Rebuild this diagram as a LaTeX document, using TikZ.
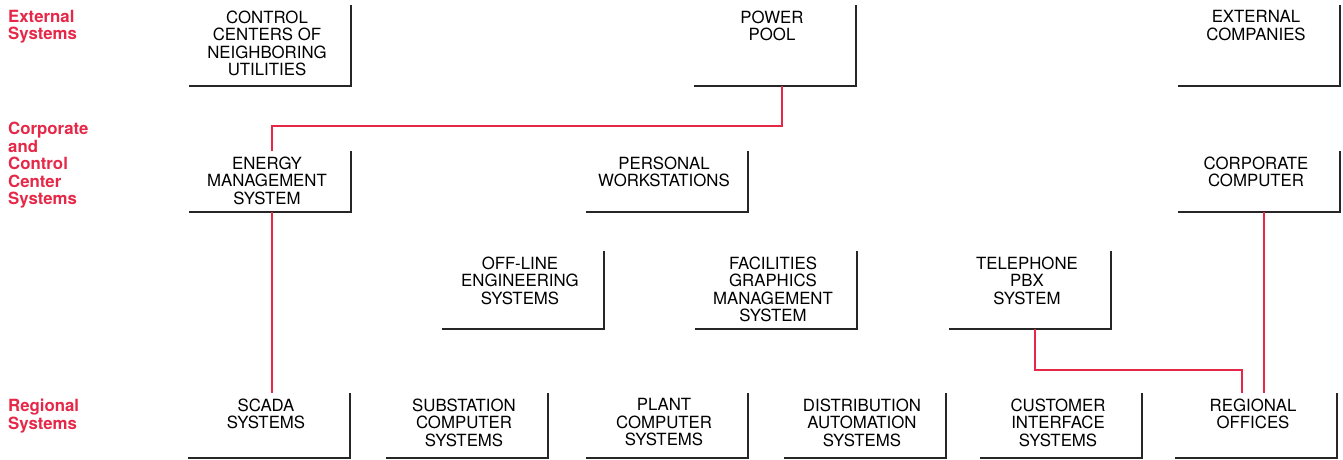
\documentclass[tikz,border=0pt]{standalone}
\usepackage{fontspec}
\setmainfont{TeX Gyre Heros}
\definecolor{wirered}{RGB}{230,40,72}

\begin{document}
\begin{tikzpicture}[
  x=1pt, y=-1pt,
  every node/.style={font=\fontsize{16.8}{17.5}\selectfont},
  box/.style={
    rectangle, inner sep=0pt, outer sep=0pt, anchor=north east,
    minimum width=162pt, minimum height=#1},
  box/.default=65pt,
  txt/.style={anchor=north, yshift=-5.5pt, xshift=-3pt,
    inner sep=0pt, align=center},
  rim/.style={draw=black!85, line width=1.4pt},
  tier/.style={anchor=north west, inner sep=0pt, align=left,
    text=wirered, font=\fontsize{16.8}{17.5}\selectfont\bfseries},
  wire/.style={draw=wirered, line width=1.2pt},
]
  \useasboundingbox (0,0) rectangle (1343,460);

  % tier headings
  \node[tier] (ext) at (8,10)  {External\\Systems};
  \node[tier] (cc)  at (8,122) {Corporate\\and\\Control\\Center\\Systems};
  \node[tier] (rgn) at (8,399) {Regional\\Systems};

  % external systems
  \node[box=81pt, label={[txt]north:CONTROL\\CENTERS OF\\NEIGHBORING\\UTILITIES}]
      (ccnu) at (351,5) {};
  \node[box=81pt, label={[txt]north:POWER\\POOL}]
      (pool) at (856,5) {};
  \node[box=81pt, label={[txt]north:EXTERNAL\\COMPANIES}]
      (extc) at (1340,5) {};

  % corporate and control center systems
  \node[box=61pt, label={[txt]north:ENERGY\\MANAGEMENT\\SYSTEM}]
      (ems) at (351,151) {};
  \node[box=61pt, label={[txt]north:PERSONAL\\WORKSTATIONS}]
      (pws) at (748,151) {};
  \node[box=61pt, label={[txt]north:CORPORATE\\COMPUTER}]
      (corp) at (1340,151) {};

  \node[box=78pt, label={[txt]north:OFF-LINE\\ENGINEERING\\SYSTEMS}]
      (offl) at (604,251) {};
  \node[box=78pt, label={[txt]north:FACILITIES\\GRAPHICS\\MANAGEMENT\\SYSTEM}]
      (fac) at (857,251) {};
  \node[box=78pt, label={[txt]north:TELEPHONE\\PBX\\SYSTEM}]
      (tel) at (1111,251) {};

  % regional systems
  \node[box, label={[txt]north:SCADA\\SYSTEMS}]
      (scada) at (350,393) {};
  \node[box, label={[txt]north:SUBSTATION\\COMPUTER\\SYSTEMS}]
      (subs) at (548,393) {};
  \node[box, label={[txt]north:PLANT\\COMPUTER\\SYSTEMS}]
      (plant) at (748,393) {};
  \node[box, label={[txt]north:DISTRIBUTION\\AUTOMATION\\SYSTEMS}]
      (dist) at (946,393) {};
  \node[box, label={[txt]north:CUSTOMER\\INTERFACE\\SYSTEMS}]
      (cust) at (1142,393) {};
  \node[box, label={[txt]north:REGIONAL\\OFFICES}]
      (reg) at (1337,393) {};

  \foreach \n in {ccnu,pool,extc,ems,pws,corp,offl,fac,tel,
                  scada,subs,plant,dist,cust,reg}
    \draw[rim] (\n.south west) -| (\n.north east);

  \draw[wire] ([xshift=7pt]pool.south) -- ++(0,40) -| ([xshift=2pt]ems.north);
  \draw[wire] ([xshift=2pt]ems.south) -- ([xshift=3pt]scada.north);
  \draw[wire] ([xshift=5pt]corp.south) -- ([xshift=8pt]reg.north);
  \draw[wire] ([xshift=5pt]tel.south) -- ++(0,41) -| ([xshift=-14pt]reg.north);
\end{tikzpicture}
\end{document}
